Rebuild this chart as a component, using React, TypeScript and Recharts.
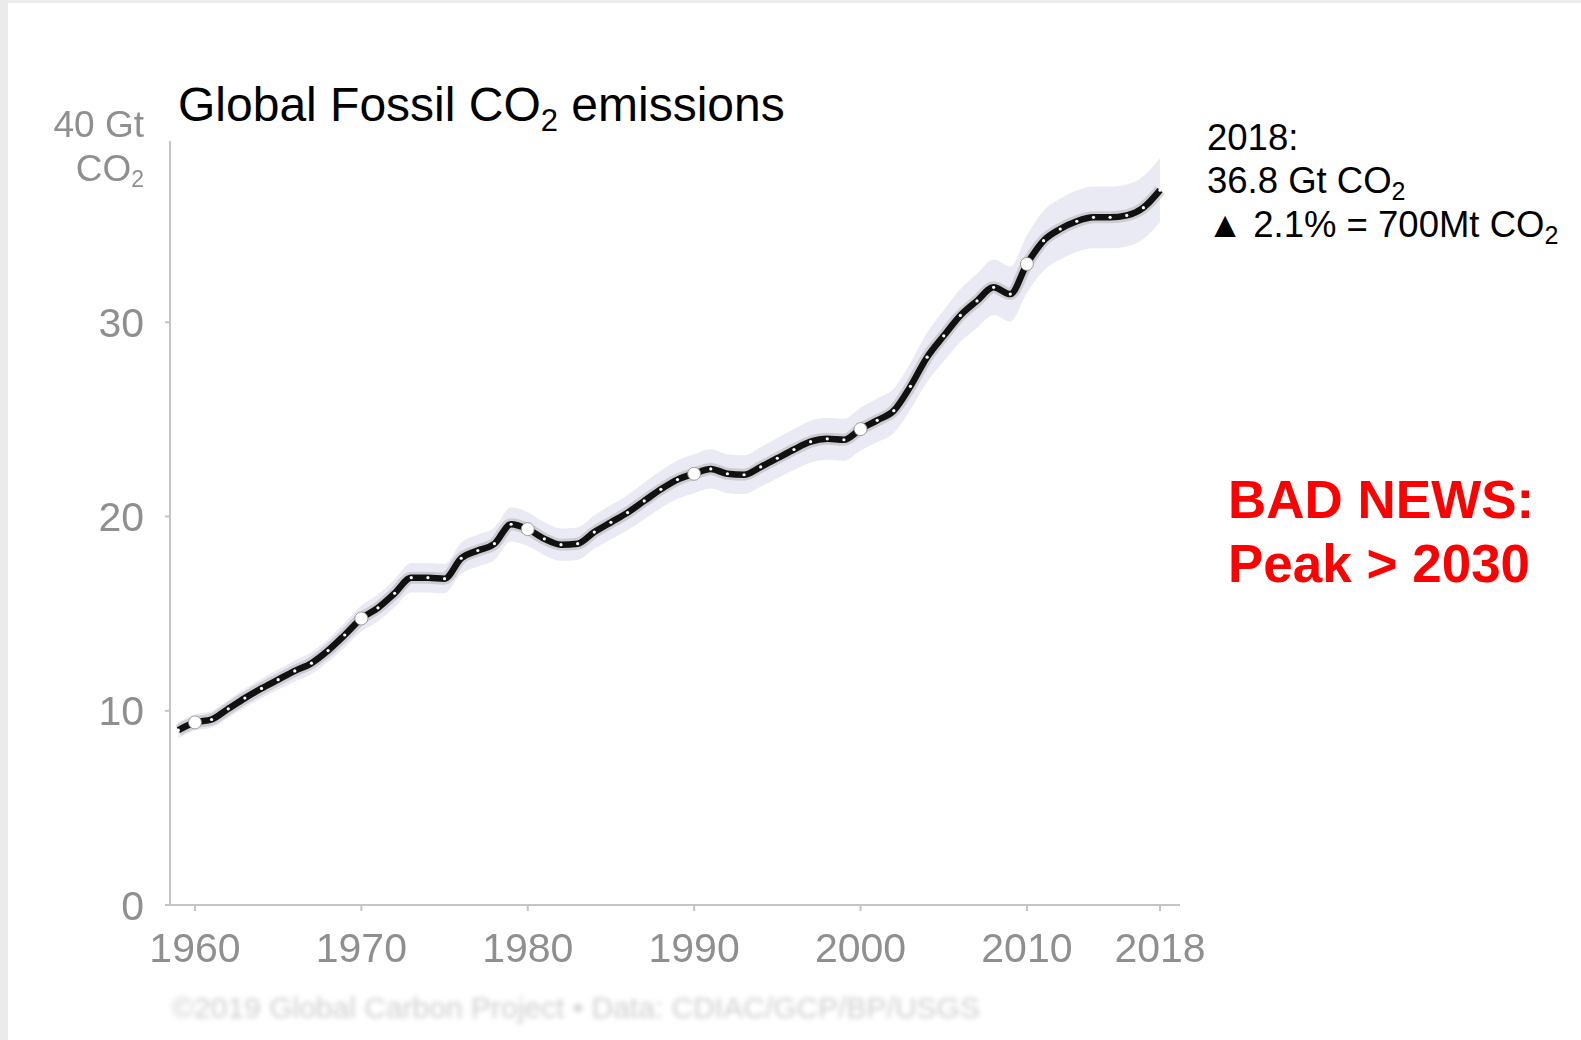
import React from "react";
import { Area, ComposedChart, Line, XAxis, YAxis } from "recharts";

// global fossil CO2 emissions, Gt CO2 per year
const years = [
  1959, 1960, 1961, 1962, 1963, 1964, 1965, 1966, 1967, 1968, 1969, 1970, 1971, 1972, 1973, 1974, 1975,
  1976, 1977, 1978, 1979, 1980, 1981, 1982, 1983, 1984, 1985, 1986, 1987, 1988, 1989, 1990, 1991, 1992,
  1993, 1994, 1995, 1996, 1997, 1998, 1999, 2000, 2001, 2002, 2003, 2004, 2005, 2006, 2007, 2008, 2009,
  2010, 2011, 2012, 2013, 2014, 2015, 2016, 2017, 2018,
];
const emissions = [
  9.0, 9.4, 9.55, 10.1, 10.65, 11.15, 11.6, 12.05, 12.45, 13.1, 13.9, 14.75, 15.3, 16.05, 16.85, 16.85, 16.8,
  17.85, 18.25, 18.6, 19.6, 19.35, 18.85, 18.55, 18.6, 19.2, 19.7, 20.2, 20.8, 21.4, 21.9, 22.2, 22.45, 22.2,
  22.15, 22.55, 23.0, 23.45, 23.85, 24.0, 23.95, 24.5, 24.95, 25.45, 26.7, 28.2, 29.3, 30.35, 31.1, 31.8, 31.45,
  33.0, 34.2, 34.8, 35.2, 35.4, 35.4, 35.5, 35.9, 36.8,
];
// relative uncertainty shown as the shaded band
const uncertainty = 0.045;
const markedYears = [1960, 1970, 1980, 1990, 2000, 2010];

const xTicks = [1960, 1970, 1980, 1990, 2000, 2010, 2018];
const yTicks = [0, 10, 20, 30, 40];

const data = years.map((year, i) => ({
  year,
  value: emissions[i],
  band: [emissions[i] * (1 - uncertainty), emissions[i] * (1 + uncertainty)],
}));

const FONT = "'Liberation Sans', Arial, Helvetica, sans-serif";
const TICK_GRAY = "#8f8f8f";

function XTick(props: any) {
  const { x, y, payload } = props;
  return (
    <text x={x} y={y} dy="0.71em" textAnchor="middle" fontFamily={FONT} fontSize={41} fill={TICK_GRAY} filter="url(#soft)">
      {payload.value}
    </text>
  );
}

function YTick(props: any) {
  const { x, y, payload } = props;
  if (payload.value === 40) {
    // top tick carries the unit on a second line
    return (
      <g fontFamily={FONT} fill={TICK_GRAY} filter="url(#soft)">
        <text x={x} y={y - 4} dy="0.355em" textAnchor="end" fontSize={37}>40 Gt</text>
        <text x={x} y={y + 40} dy="0.355em" textAnchor="end" fontSize={37}>
          CO
          <tspan fontSize={23} dy={6}>2</tspan>
        </text>
      </g>
    );
  }
  return (
    <text x={x} y={y} dy="0.355em" textAnchor="end" fontFamily={FONT} fontSize={41} fill={TICK_GRAY} filter="url(#soft)">
      {payload.value}
    </text>
  );
}

function renderDot(props: any) {
  const { cx, cy, payload, index } = props;
  if (markedYears.includes(payload.year)) {
    return <circle key={`d-${index}`} cx={cx} cy={cy} r={6.5} fill="#fff" stroke="#888" strokeWidth={0.8} />;
  }
  return <circle key={`d-${index}`} cx={cx} cy={cy} r={1.6} fill="#fff" stroke="none" />;
}

export default function App() {
  return (
    <div style={{ position: "fixed", left: 0, top: 0, width: 1581, height: 1040, background: "#ebebeb" }}>
      <div style={{ position: "absolute", left: 8, top: 3, right: 0, bottom: 0, background: "#fff" }} />
      <div style={{ position: "absolute", left: 0, top: 0 }}>
        <ComposedChart
          width={1581}
          height={1040}
          data={data}
          margin={{ top: 128, right: 401, bottom: 55, left: 70 }}
        >
          <defs>
            <filter id="soft" x="-10%" y="-10%" width="120%" height="120%">
              <feGaussianBlur stdDeviation="0.7" />
            </filter>
          </defs>
          <XAxis
            type="number"
            dataKey="year"
            domain={[1958.5, 2019.2]}
            ticks={xTicks}
            allowDataOverflow
            height={80}
            stroke="#c4c4c4"
            strokeWidth={2}
            tickSize={6}
            tickMargin={22}
            tick={<XTick />}
          />
          <YAxis
            type="number"
            domain={[0, 40]}
            ticks={yTicks}
            width={100}
            stroke="#c4c4c4"
            strokeWidth={2}
            tickSize={5}
            tickMargin={21}
            tick={<YTick />}
          />
          <Area
            type="monotone"
            dataKey="band"
            fill="#dcdcec"
            fillOpacity={0.6}
            stroke="none"
            isAnimationActive={false}
            activeDot={false}
          />
          <Line
            type="monotone"
            dataKey="value"
            stroke="#a0a0a0"
            strokeWidth={12}
            strokeOpacity={0.4}
            dot={false}
            activeDot={false}
            isAnimationActive={false}
          />
          <Line
            type="monotone"
            dataKey="value"
            stroke="#111"
            strokeWidth={6.5}
            dot={renderDot}
            activeDot={false}
            isAnimationActive={false}
          />
        </ComposedChart>
      </div>
      <svg
        width={1581}
        height={1040}
        style={{ position: "absolute", left: 0, top: 0, pointerEvents: "none" }}
        fontFamily={FONT}
      >
        <defs>
          <filter id="blurFoot" x="-5%" y="-50%" width="110%" height="200%">
            <feGaussianBlur stdDeviation="2.4" />
          </filter>
        </defs>
        <rect x={160} y={75} width={640} height={66} fill="#fff" />
        <text x={178} y={121} fontSize={48} fill="#000">
          Global Fossil CO
          <tspan fontSize={31} dy={10}>2</tspan>
          <tspan dy={-10}> emissions</tspan>
        </text>
        <g fontSize={36.5} fill="#000">
          <text x={1207} y={150}>2018:</text>
          <text x={1207} y={193}>
            36.8 Gt CO
            <tspan fontSize={25} dy={7}>2</tspan>
          </text>
          <text x={1207} y={237}>
            ▲ 2.1% = 700Mt CO
            <tspan fontSize={25} dy={7}>2</tspan>
          </text>
        </g>
        <g fontSize={53} fontWeight="bold" fill="#ff0000">
          <text x={1228} y={518}>BAD NEWS:</text>
          <text x={1228} y={582}>Peak &gt; 2030</text>
        </g>
        <text x={172} y={1018} fontSize={30} fill="#cfcfcf" filter="url(#blurFoot)">
          ©2019 Global Carbon Project • Data: CDIAC/GCP/BP/USGS
        </text>
      </svg>
    </div>
  );
}
